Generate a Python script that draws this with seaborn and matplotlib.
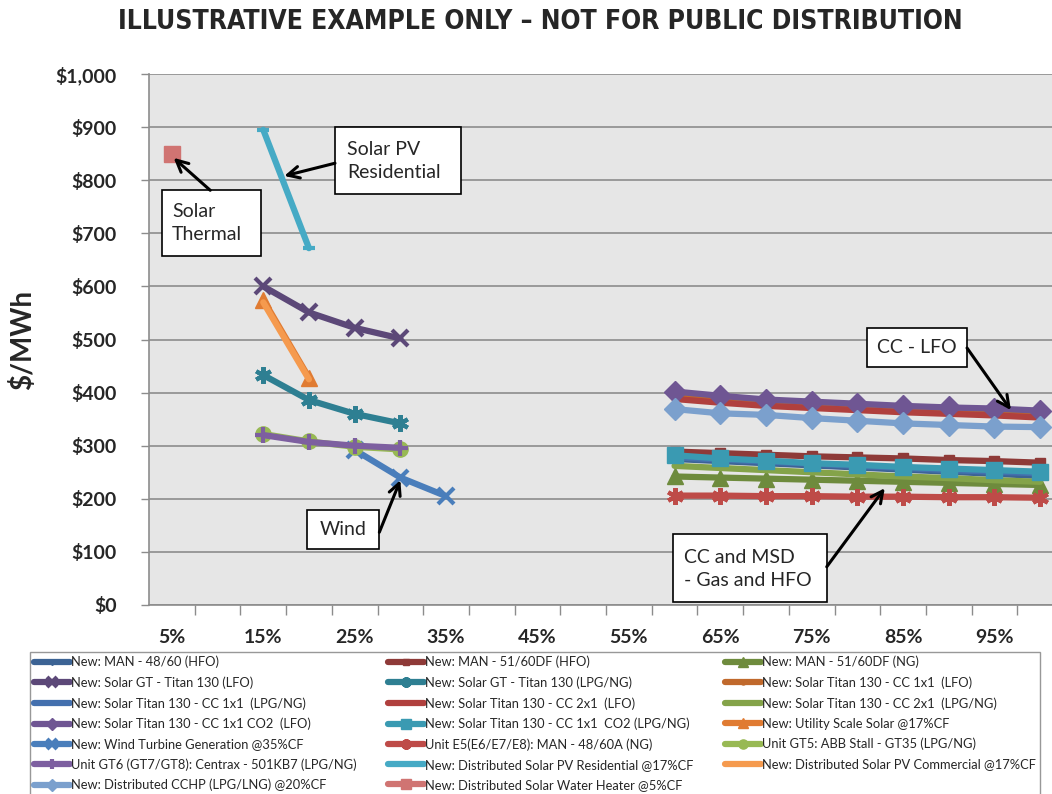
import matplotlib
matplotlib.use("Agg")
import matplotlib.pyplot as plt
from matplotlib import font_manager
from matplotlib.patches import Rectangle
import seaborn as sns
import pandas as pd

sns.set_theme(style="white")
plt.rcParams["font.family"] = ["Lato", "DejaVu Sans"]

# narrow bold face for the banner if one is installed
installed = {(f.name, f.stretch) for f in font_manager.fontManager.ttflist}
names = {n for n, _ in installed}
TITLE_FONT, TITLE_STRETCH = "Liberation Sans", "normal"
if "Liberation Sans Narrow" in names:
    TITLE_FONT = "Liberation Sans Narrow"
elif ("DejaVu Sans", "condensed") in installed or ("DejaVu Sans", 300) in installed:
    TITLE_FONT, TITLE_STRETCH = "DejaVu Sans", "condensed"

# capacity factor categories (%)
cf_water = [5]
cf_solar = [15, 20]
cf_gt = [15, 20, 25, 30]
cf_wind = [25, 30, 35]
cf_cc = [60, 65, 70, 75, 80, 85, 90, 95, 100]

# levelised cost, $/MWh
man_4860_hfo = [275, 271, 267, 263, 259, 255, 251, 247, 243]
man_5160df_hfo = [289, 286, 283, 280, 278, 276, 273, 271, 268]
man_5160df_ng = [242, 240, 238, 236, 234, 232, 230, 228, 226]
solar_gt_lfo = [600, 551, 522, 502]
solar_gt_lpg = [433, 386, 360, 342]
cc1x1_lfo = [393, 386, 380, 376, 372, 368, 365, 362, 358]
cc1x1_lpg = [278, 274, 270, 266, 262, 258, 254, 251, 248]
cc2x1_lfo = [388, 381, 375, 371, 367, 363, 360, 357, 353]
cc2x1_lpg = [262, 258, 254, 250, 246, 242, 239, 235, 232]
cc1x1_co2_lfo = [402, 394, 387, 383, 379, 375, 372, 370, 366]
cc1x1_co2_lpg = [282, 276, 272, 267, 264, 260, 257, 254, 251]
utility_solar = [575, 428]
wind = [292, 240, 205]
unit_e5 = [206, 206, 205, 205, 204, 204, 203, 203, 202]
unit_gt5 = [322, 308, 298, 293]
unit_gt6 = [320, 307, 300, 296]
dist_pv_res = [895, 672]
dist_pv_com = [570, 425]
dist_cchp = [369, 361, 358, 352, 347, 342, 339, 336, 335]
dist_swh = [850]

series = [
    ("New: MAN - 48/60 (HFO)", cf_cc, man_4860_hfo),
    ("New: MAN - 51/60DF (HFO)", cf_cc, man_5160df_hfo),
    ("New: MAN - 51/60DF (NG)", cf_cc, man_5160df_ng),
    ("New: Solar GT - Titan 130 (LFO)", cf_gt, solar_gt_lfo),
    ("New: Solar GT - Titan 130 (LPG/NG)", cf_gt, solar_gt_lpg),
    ("New: Solar Titan 130 - CC 1x1  (LFO)", cf_cc, cc1x1_lfo),
    ("New: Solar Titan 130 - CC 1x1  (LPG/NG)", cf_cc, cc1x1_lpg),
    ("New: Solar Titan 130 - CC 2x1  (LFO)", cf_cc, cc2x1_lfo),
    ("New: Solar Titan 130 - CC 2x1  (LPG/NG)", cf_cc, cc2x1_lpg),
    ("New: Solar Titan 130 - CC 1x1 CO2  (LFO)", cf_cc, cc1x1_co2_lfo),
    ("New: Solar Titan 130 - CC 1x1  CO2 (LPG/NG)", cf_cc, cc1x1_co2_lpg),
    ("New: Utility Scale Solar @17%CF", cf_solar, utility_solar),
    ("New: Wind Turbine Generation @35%CF", cf_wind, wind),
    ("Unit E5(E6/E7/E8): MAN - 48/60A (NG)", cf_cc, unit_e5),
    ("Unit GT5: ABB Stall - GT35 (LPG/NG)", cf_gt, unit_gt5),
    ("Unit GT6 (GT7/GT8): Centrax - 501KB7 (LPG/NG)", cf_gt, unit_gt6),
    ("New: Distributed Solar PV Residential @17%CF", cf_solar, dist_pv_res),
    ("New: Distributed Solar PV Commercial @17%CF", cf_solar, dist_pv_com),
    ("New: Distributed CCHP (LPG/LNG) @20%CF", cf_cc, dist_cchp),
    ("New: Distributed Solar Water Heater @5%CF", cf_water, dist_swh),
]

# colour, marker, marker size, marker edge width
styles = [
    ("#3C6394", "D", 5, 1),
    ("#8E3A38", "s", 7, 1),
    ("#6E8B3D", "^", 11, 1),
    ("#5C4878", "x", 11, 3),
    ("#2E7F92", (6, 2, 0), 12, 3),
    ("#C0692C", "o", 6, 1),
    ("#4470AE", "+", 6, 2),
    ("#B0403E", "", 0, 0),
    ("#84A349", "", 0, 0),
    ("#6F5693", "D", 11, 1),
    ("#3A9AB2", "s", 12, 1),
    ("#E07B32", "^", 11, 1),
    ("#4A7EBB", "x", 11, 3),
    ("#BE4B48", (6, 2, 0), 12, 3),
    ("#98B954", "o", 11, 1),
    ("#7D5FA0", "+", 11, 3),
    ("#46AAC5", "_", 9, 3),
    ("#F59A4E", "", 0, 0),
    ("#7BA0CD", "D", 11, 1),
    ("#D07472", "s", 11, 1),
]

y_ticks = [0, 100, 200, 300, 400, 500, 600, 700, 800, 900, 1000]
y_tick_labels = ["$0", "$100", "$200", "$300", "$400", "$500", "$600",
                 "$700", "$800", "$900", "$1,000"]
x_ticks = [5, 15, 25, 35, 45, 55, 65, 75, 85, 95]
x_tick_labels = ["5%", "15%", "25%", "35%", "45%", "55%", "65%", "75%", "85%", "95%"]

GRID = "#8C8C8C"

fig = plt.figure(figsize=(10.52, 7.94), dpi=100)
ax = fig.add_axes([149 / 1052, 1 - 605 / 794, 914 / 1052, 531 / 794])
ax.set_facecolor("#E6E6E6")

for i, ((name, xs, ys), (col, mk, ms, mew)) in enumerate(zip(series, styles)):
    df = pd.DataFrame({"cf": xs, "cost": ys})
    sns.lineplot(data=df, x="cf", y="cost", ax=ax, color=col, lw=4.5,
                 marker=mk if mk else None, markersize=ms, markeredgewidth=mew,
                 markeredgecolor=col, markerfacecolor=col, label=name,
                 zorder=3 + i * 0.1, solid_capstyle="round")

if ax.get_legend() is not None:
    ax.get_legend().remove()

ax.set_xlim(2.5, 102.5)
ax.set_ylim(0, 1000)
ax.set_xlabel("")
ax.set_ylabel("")
ax.set_yticks(y_ticks)
ax.set_yticklabels(y_tick_labels, fontsize=14, fontweight="bold")
ax.set_xticks(x_ticks)
ax.set_xticklabels(x_tick_labels, fontsize=14, fontweight="bold")
ax.set_xticks([2.5 + 5 * k for k in range(1, 20)], minor=True)
ax.tick_params(axis="y", which="major", direction="out", length=6, width=1,
               color=GRID, pad=17, left=True)
ax.tick_params(axis="x", which="major", length=0, pad=17)
ax.tick_params(axis="x", which="minor", direction="out", length=7, width=1,
               color=GRID, bottom=True)
ax.yaxis.grid(True, color=GRID, lw=1.2)
ax.xaxis.grid(False)
ax.set_axisbelow(True)
for side in ["top", "right"]:
    ax.spines[side].set_visible(False)
for side in ["left", "bottom"]:
    ax.spines[side].set_color(GRID)
    ax.spines[side].set_linewidth(1.2)

# call-out boxes: (x0, y0, x1, y1, text x, text y, text)
callouts = [
    (3.9, 657, 14.75, 781, 5.0, 719, "Solar\nThermal"),
    (22.85, 774, 36.6, 900, 24.2, 836, "Solar PV\nResidential"),
    (19.8, 105, 27.7, 179, 23.75, 142, "Wind"),
    (81.1, 448, 92.0, 521, 86.55, 484, "CC - LFO"),
    (59.8, 6, 76.65, 134, 61.0, 68, "CC and MSD\n- Gas and HFO"),
]
for x0, y0, x1, y1, tx, ty, txt in callouts:
    ax.add_patch(Rectangle((x0, y0), x1 - x0, y1 - y0, facecolor="white",
                           edgecolor="black", lw=1.2, zorder=10))
    ha = "center" if txt in ("Wind", "CC - LFO") else "left"
    ax.text(tx, ty, txt, ha=ha, va="center", fontsize=14, linespacing=1.45,
            zorder=11)

# arrows: (tail, head)
arrows = [
    ((9.2, 781), (5.2, 842)),
    ((22.85, 832), (17.3, 808)),
    ((27.7, 137), (30.0, 235)),
    ((92.0, 484), (96.8, 367)),
    ((76.65, 72), (83.0, 220)),
]
for tail, head in arrows:
    ax.annotate("", xy=head, xytext=tail, zorder=12,
                arrowprops=dict(arrowstyle="->,head_length=0.7,head_width=0.35",
                                color="black", lw=2.2, shrinkA=0, shrinkB=0))

title = fig.text(540 / 1052, 1 - 22 / 794,
                 "ILLUSTRATIVE EXAMPLE ONLY \u2013 NOT FOR PUBLIC DISTRIBUTION",
                 ha="center", va="center", fontsize=26, fontweight="bold",
                 family=TITLE_FONT, fontstretch=TITLE_STRETCH)
# fit the banner to the width it has in the original (about 846 px)
renderer = fig.canvas.get_renderer()
w = title.get_window_extent(renderer).width
title.set_fontsize(min(26, 26 * 846 / w))

fig.text(23 / 1052, 1 - 340 / 794, "$/MWh", rotation=90, ha="center", va="center",
         fontsize=20, fontweight="bold")

# legend, filled row by row like the original
handles, labels = ax.get_legend_handles_labels()
order = [r * 3 + c for c in range(3) for r in range(7) if r * 3 + c < len(handles)]
leg = fig.legend([handles[k] for k in order], [labels[k] for k in order], ncol=3,
                 loc="upper left", bbox_to_anchor=(30 / 1052, 1 - 652 / 794),
                 borderaxespad=0, fontsize=9.3, frameon=True, fancybox=False,
                 edgecolor="#7F7F7F", handlelength=2.8, handletextpad=0.1,
                 columnspacing=2.4, labelspacing=0.62, borderpad=0.3,
                 markerscale=0.6)
leg.get_frame().set_linewidth(1.0)

fig.savefig("out.png", dpi=100)
